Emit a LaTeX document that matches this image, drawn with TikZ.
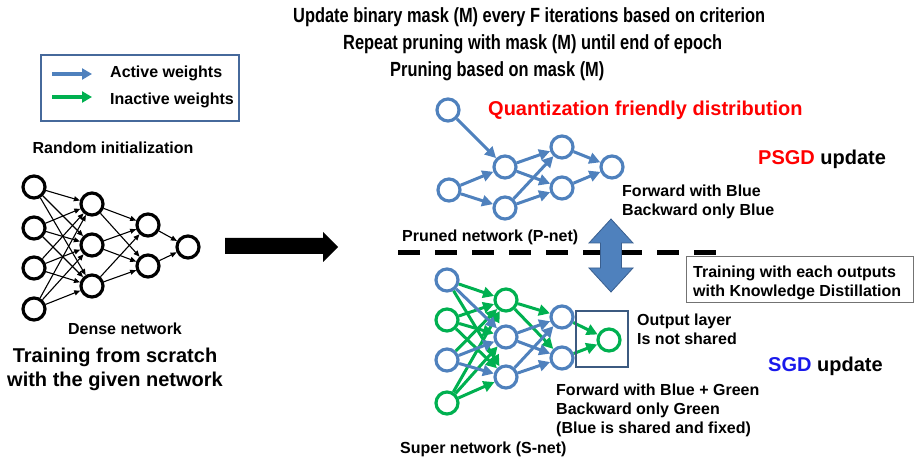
\documentclass[tikz,border=0pt]{standalone}
\usepackage{fontspec}
\setmainfont{Liberation Sans}
\newfontfamily\narrowfont[FakeStretch=0.80]{Liberation Sans}
\usetikzlibrary{arrows.meta}
\definecolor{pblue}{RGB}{79,129,189}
\definecolor{pgreen}{RGB}{0,176,80}
\definecolor{pred}{RGB}{255,0,0}
\definecolor{sgdblue}{RGB}{25,25,235}
\definecolor{legendframe}{RGB}{70,105,155}
\definecolor{outframe}{RGB}{60,90,128}
\definecolor{arrowedge}{RGB}{58,95,143}
\begin{document}
\begin{tikzpicture}[x=1pt,y=-1pt,
  dn/.style={circle, draw=black, line width=3.2pt, minimum size=22pt, inner sep=0pt},
  bn/.style={dn, draw=pblue},
  gn/.style={dn, draw=pgreen},
  dedge/.style={line width=1.1pt, -{Triangle[length=6pt,width=5pt]}},
  bedge/.style={draw=pblue, line width=3pt, -{Triangle[length=11pt,width=11pt]}},
  gedge/.style={draw=pgreen, line width=3pt, -{Triangle[length=11pt,width=11pt]}},
  lbl/.style={font=\fontsize{16}{19}\selectfont\bfseries, inner sep=0pt, align=left},
  big/.style={font=\fontsize{20}{24}\selectfont\bfseries, inner sep=0pt, align=center},
  ttl/.style={font=\fontsize{20.5}{24}\selectfont\narrowfont\bfseries, inner sep=0pt, anchor=west},
  legarrow/.style={line width=4pt, -{Triangle[length=10pt,width=11pt]}}
]
\useasboundingbox (0,0) rectangle (915,462);

% ---------- titles ----------
\node[ttl] (t1) at (293,17) {Update binary mask (M) every F iterations based on criterion};
\node[ttl] (t2) at (343,44) {Repeat pruning with mask (M) until end of epoch};
\node[ttl] (t3) at (390,71) {Pruning based on mask (M)};

% ---------- legend ----------
\draw[legendframe, line width=1.5pt] (41,55) rectangle (239,121);
\coordinate (la1) at (52,74); \coordinate (la2) at (92,74);
\coordinate (lg1) at (52,97); \coordinate (lg2) at (92,97);
\draw[legarrow, pblue] (la1) -- (la2);
\draw[legarrow, pgreen] (lg1) -- (lg2);
\node[lbl, anchor=west] (lact) at (110,73) {Active weights};
\node[lbl, anchor=west] (linact) at (110,100) {Inactive weights};

% ---------- dense network ----------
\node[lbl] (rinit) at (113,148) {Random initialization};
\node[dn] (d11) at (34,187) {};
\node[dn] (d12) at (34,228) {};
\node[dn] (d13) at (34,268) {};
\node[dn] (d14) at (34,309) {};
\node[dn] (d21) at (92,204) {};
\node[dn] (d22) at (92,245) {};
\node[dn] (d23) at (92,286) {};
\node[dn] (d31) at (148,225) {};
\node[dn] (d32) at (148,266) {};
\node[dn] (d41) at (188,247) {};
\foreach \a in {1,2,3,4}{\foreach \b in {1,2,3}{\draw[dedge] (d1\a) -- (d2\b);}}
\foreach \a in {1,2,3}{\foreach \b in {1,2}{\draw[dedge] (d2\a) -- (d3\b);}}
\foreach \a in {1,2}{\draw[dedge] (d3\a) -- (d41);}
\node[lbl] (dense) at (125,329) {Dense network};
\node[big] (train) at (115,369) {Training from scratch\\with the given network};

% ---------- big black arrow ----------
\fill[black] (225,238) -- (323,238) -- (323,232) -- (338,247) -- (323,262) -- (323,254) -- (225,254) -- cycle;

% ---------- pruned network ----------
\node[font=\fontsize{20}{24}\selectfont\bfseries, text=pred, inner sep=0pt, anchor=west] (quant) at (488,110) {Quantization friendly distribution};
\node[bn] (p11) at (448,110) {};
\node[bn] (p12) at (449,190) {};
\node[bn] (p21) at (505,167) {};
\node[bn] (p22) at (505,208) {};
\node[bn] (p31) at (562,147) {};
\node[bn] (p32) at (562,188) {};
\node[bn] (p41) at (612,167) {};
\draw[bedge] (p11) -- (p21);
\draw[bedge] (p12) -- (p21);
\draw[bedge] (p12) -- (p22);
\foreach \a in {1,2}{\foreach \b in {1,2}{\draw[bedge] (p2\a) -- (p3\b);}}
\draw[bedge] (p31) -- (p41);
\draw[bedge] (p32) -- (p41);
\node[font=\fontsize{20}{24}\selectfont\bfseries, inner sep=0pt, anchor=west] (psgd) at (758,159) {\textcolor{pred}{PSGD} update};
\node[lbl, anchor=west] (fwdb) at (622,201.5) {Forward with Blue\\Backward only Blue};
\node[lbl, anchor=west] (pnet) at (402,237) {Pruned network (P-net)};

% ---------- dashed divider ----------
\coordinate (dl) at (398,253); \coordinate (dr) at (717,253);
\draw[line width=5pt, dash pattern=on 22pt off 15pt] (dl) -- (dr);

% ---------- double block arrow ----------
\filldraw[fill=pblue, draw=arrowedge, line width=0.8pt]
  (611,219) -- (633,243) -- (621.5,243) -- (621.5,268) -- (633,268) -- (611,292)
  -- (589,268) -- (600.5,268) -- (600.5,243) -- (589,243) -- cycle;

% ---------- KD box ----------
\draw[black!55, line width=1pt] (686,257) rectangle (913,302);
\node[lbl, anchor=west] (kd) at (693,282.5) {Training with each outputs\\with Knowledge Distillation};

% ---------- super network ----------
\node[bn] (s11) at (447,280) {};
\node[gn] (s12) at (447,320) {};
\node[bn] (s13) at (447,360) {};
\node[gn] (s14) at (447,403) {};
\node[gn] (s21) at (506,300) {};
\node[bn] (s22) at (506,337) {};
\node[bn] (s23) at (506,377) {};
\node[bn] (s31) at (562,317) {};
\node[bn] (s32) at (562,358) {};
\node[gn] (s41) at (609,340) {};
% green (inactive) edges
\foreach \a/\b in {1/1,1/3,2/1,2/2,2/3,3/1,4/1,4/2,4/3}{\draw[gedge] (s1\a) -- (s2\b);}
\draw[gedge] (s21) -- (s31);
\draw[gedge] (s21) -- (s32);
\draw[gedge] (s31) -- (s41);
\draw[gedge] (s32) -- (s41);
% blue (active) edges
\draw[bedge] (s11) -- (s22);
\draw[bedge] (s13) -- (s22);
\draw[bedge] (s13) -- (s23);
\foreach \a in {2,3}{\foreach \b in {1,2}{\draw[bedge] (s2\a) -- (s3\b);}}
% output box
\draw[outframe, line width=1.2pt] (576,311) rectangle (628,367);
\node[lbl, anchor=west] (outl) at (637,329.5) {Output layer\\Is not shared};
\node[font=\fontsize{20}{24}\selectfont\bfseries, inner sep=0pt, anchor=west] (sgd) at (768,366) {\textcolor{sgdblue}{SGD} update};
\node[lbl, anchor=west] (fwdg) at (556,410.5) {Forward with Blue + Green\\Backward only Green\\(Blue is shared and fixed)};
\node[lbl, anchor=west] (snet) at (400,449) {Super network (S-net)};
\end{tikzpicture}
\end{document}
